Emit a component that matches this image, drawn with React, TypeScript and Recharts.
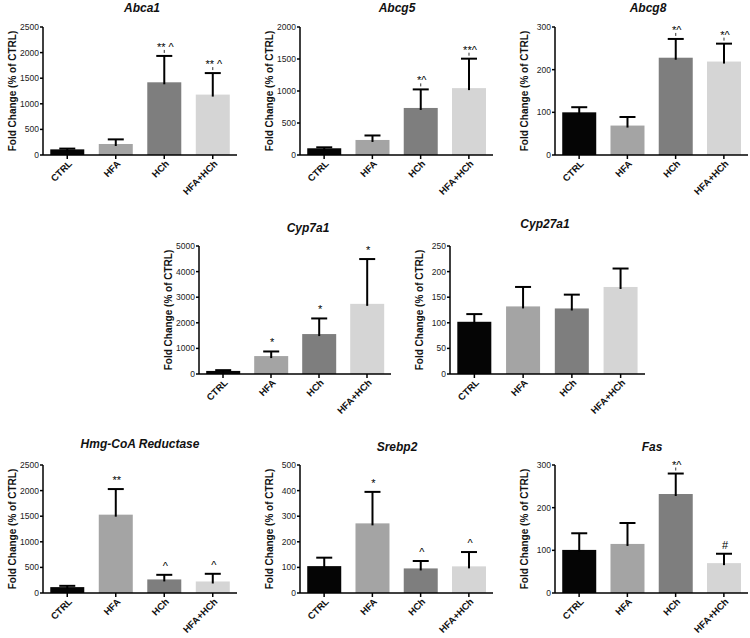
import { Bar, BarChart, XAxis, YAxis } from "recharts";

const groups = ["CTRL", "HFA", "HCh", "HFA+HCh"];
const groupColors = ["#050505", "#a4a4a4", "#7e7e7e", "#d5d5d5"];

const abca1Mean = [110, 215, 1420, 1180];
const abca1Sem = [15, 90, 515, 420];
const abca1Marks = ["", "", "** ^", "** ^"];

const abcg5Mean = [105, 235, 735, 1045];
const abcg5Sem = [15, 70, 290, 460];
const abcg5Marks = ["", "", "*^", "**^"];

const abcg8Mean = [100, 69, 228, 219];
const abcg8Sem = [12, 20, 44, 42];
const abcg8Marks = ["", "", "*^", "*^"];

const cyp7a1Mean = [120, 700, 1560, 2740];
const cyp7a1Sem = [30, 180, 610, 1750];
const cyp7a1Marks = ["", "*", "*", "*"];

const cyp27a1Mean = [102, 132, 128, 170];
const cyp27a1Sem = [15, 38, 27, 36];
const cyp27a1Marks = ["", "", "", ""];

const hmgMean = [115, 1530, 265, 225];
const hmgSem = [25, 500, 90, 150];
const hmgMarks = ["", "**", "^", "^"];

const srebp2Mean = [105, 272, 96, 104];
const srebp2Sem = [33, 123, 29, 56];
const srebp2Marks = ["", "*", "^", "^"];

const fasMean = [101, 115, 232, 70];
const fasSem = [39, 49, 48, 22];
const fasMarks = ["", "", "*^", "#"];

const ticks2500 = [0, 500, 1000, 1500, 2000, 2500];
const ticks2000 = [0, 500, 1000, 1500, 2000];
const ticks300 = [0, 100, 200, 300];
const ticks5000 = [0, 1000, 2000, 3000, 4000, 5000];
const ticks250 = [0, 50, 100, 150, 200, 250];
const ticks500 = [0, 100, 200, 300, 400, 500];

const font = "Arial, 'Liberation Sans', sans-serif";

// bar plus upward SEM whisker and significance marks, sized from the bar's own scale
function BarWithError(props: any) {
  const { x, y, width, height, index, payload } = props;
  const k = payload.mean ? height / payload.mean : 0;
  const cx = x + width / 2;
  const top = y - payload.sem * k;
  const mark: string = payload.mark;
  const dash = mark.includes("^") && mark.includes("*");
  return (
    <g>
      <rect x={x} y={y} width={width} height={height} fill={groupColors[index]} />
      <line x1={cx} x2={cx} y1={y + 2} y2={top} stroke="#000" strokeWidth={2} />
      <line x1={cx - 8} x2={cx + 8} y1={top} y2={top} stroke="#000" strokeWidth={2} />
      {dash && <line x1={cx} x2={cx} y1={top - 6} y2={top - 3} stroke="#333" strokeWidth={1} />}
      {mark && (
        <text x={cx + 1} y={top - 5} textAnchor="middle" fontSize={11} fill="#000" fontFamily={font}>
          {mark}
        </text>
      )}
    </g>
  );
}

function XTick(props: any) {
  const { x, y, payload } = props;
  const tx = x + 3;
  const ty = y + 1;
  return (
    <text
      x={tx}
      y={ty}
      dy="0.35em"
      transform={`rotate(-45 ${tx} ${ty})`}
      textAnchor="end"
      fontSize={9.5}
      fontWeight="bold"
      fill="#111"
      fontFamily={font}
    >
      {payload.value}
    </text>
  );
}

function YLabel(props: any) {
  const { viewBox } = props;
  const lx = viewBox.x + 9;
  const ly = viewBox.y + viewBox.height / 2;
  return (
    <text
      x={lx}
      y={ly}
      transform={`rotate(-90 ${lx} ${ly})`}
      textAnchor="middle"
      dominantBaseline="central"
      fontSize={10}
      fontWeight="bold"
      fill="#111"
      fontFamily={font}
    >
      Fold Change (% of CTRL)
    </text>
  );
}

interface PanelProps {
  title: string;
  means: number[];
  sems: number[];
  marks: string[];
  ticks: number[];
  axisX: number;
  plotTop: number;
  plotWidth: number;
  titleX: number;
  titleY: number;
}

function Panel({ title, means, sems, marks, ticks, axisX, plotTop, plotWidth, titleX, titleY }: PanelProps) {
  const data = groups.map((g, i) => ({ group: g, mean: means[i], sem: sems[i], mark: marks[i] }));
  const ml = 3;
  const yw = 40;
  const mr = 2;
  const mt = 5;
  const ph = 128;
  const xh = 45;
  return (
    <>
      <div
        style={{
          position: "absolute",
          left: titleX - 100,
          top: titleY - 8,
          width: 200,
          textAlign: "center",
          fontFamily: font,
          fontSize: 12,
          fontWeight: "bold",
          fontStyle: "italic",
          color: "#111",
          lineHeight: "16px",
        }}
      >
        {title}
      </div>
      <div style={{ position: "absolute", left: axisX - yw - ml, top: plotTop - mt }}>
        <BarChart
          width={ml + yw + plotWidth + mr}
          height={mt + ph + xh}
          data={data}
          margin={{ top: mt, right: mr, bottom: 0, left: ml }}
          barCategoryGap="15%"
        >
          <XAxis
            dataKey="group"
            height={xh}
            interval={0}
            tick={<XTick />}
            tickSize={4}
            axisLine={{ stroke: "#000", strokeWidth: 1.5 }}
            tickLine={{ stroke: "#000", strokeWidth: 1.5 }}
          />
          <YAxis
            width={yw}
            domain={[0, ticks[ticks.length - 1]]}
            ticks={ticks}
            interval={0}
            tickSize={3}
            tickMargin={1}
            tick={{ fontSize: 8.5, fill: "#222", fontFamily: font }}
            axisLine={{ stroke: "#000", strokeWidth: 1.5 }}
            tickLine={{ stroke: "#000", strokeWidth: 1.5 }}
            label={<YLabel />}
          />
          <Bar dataKey="mean" shape={<BarWithError />} isAnimationActive={false} />
        </BarChart>
      </div>
    </>
  );
}

export default function App() {
  return (
    <div
      style={{
        position: "absolute",
        left: 0,
        top: 0,
        width: 750,
        height: 638,
        overflow: "hidden",
        background: "#fff",
      }}
    >
      <Panel title="Abca1" means={abca1Mean} sems={abca1Sem} marks={abca1Marks} ticks={ticks2500}
        axisX={43} plotTop={27} plotWidth={194} titleX={142} titleY={8} />
      <Panel title="Abcg5" means={abcg5Mean} sems={abcg5Sem} marks={abcg5Marks} ticks={ticks2000}
        axisX={300} plotTop={27} plotWidth={193} titleX={397} titleY={8} />
      <Panel title="Abcg8" means={abcg8Mean} sems={abcg8Sem} marks={abcg8Marks} ticks={ticks300}
        axisX={555} plotTop={27} plotWidth={193} titleX={648} titleY={8} />
      <Panel title="Cyp7a1" means={cyp7a1Mean} sems={cyp7a1Sem} marks={cyp7a1Marks} ticks={ticks5000}
        axisX={199} plotTop={246} plotWidth={192} titleX={308} titleY={228} />
      <Panel title="Cyp27a1" means={cyp27a1Mean} sems={cyp27a1Sem} marks={cyp27a1Marks} ticks={ticks250}
        axisX={450} plotTop={246} plotWidth={195} titleX={545} titleY={224} />
      <Panel title="Hmg-CoA Reductase" means={hmgMean} sems={hmgSem} marks={hmgMarks} ticks={ticks2500}
        axisX={43} plotTop={465} plotWidth={194} titleX={140} titleY={444} />
      <Panel title="Srebp2" means={srebp2Mean} sems={srebp2Sem} marks={srebp2Marks} ticks={ticks500}
        axisX={300} plotTop={465} plotWidth={193} titleX={397} titleY={447} />
      <Panel title="Fas" means={fasMean} sems={fasSem} marks={fasMarks} ticks={ticks300}
        axisX={555} plotTop={465} plotWidth={193} titleX={652} titleY={447} />
    </div>
  );
}
